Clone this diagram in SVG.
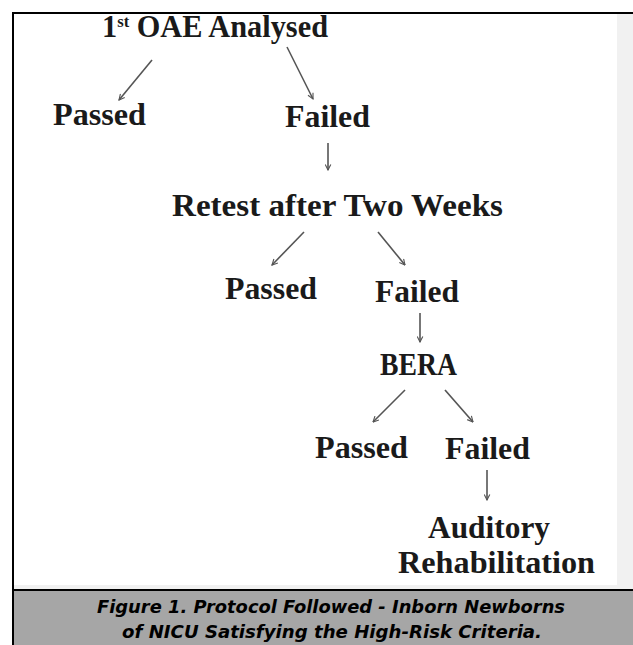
<svg xmlns="http://www.w3.org/2000/svg" width="633" height="645" viewBox="0 0 633 645">
<defs>
<style>
.t{font-family:"Liberation Serif","Times New Roman",serif;font-weight:bold;font-size:31px;fill:#1a1a1a}
.c{font-family:"DejaVu Sans",Verdana,sans-serif;font-weight:bold;font-style:italic;font-size:17px;fill:#000}
.a{stroke:#555;stroke-width:1.6;fill:none;marker-end:url(#ah)}
</style>
<marker id="ah" viewBox="0 0 10 10" refX="9" refY="5" markerWidth="7" markerHeight="7" orient="auto" markerUnits="userSpaceOnUse">
<path d="M1,1 L9,5 L1,9" fill="none" stroke="#555" stroke-width="1.6"/>
</marker>
</defs>
<rect x="0" y="0" width="633" height="645" fill="#fff"/>
<rect x="617" y="14" width="16" height="576" fill="#f1f1f1"/>
<rect x="14" y="585" width="619" height="5" fill="#f1f1f1"/>
<rect x="14" y="590" width="619" height="55" fill="#a6a6a6"/>
<line x1="14" y1="590" x2="633" y2="590" stroke="#000" stroke-width="2"/>
<line x1="13" y1="12" x2="13" y2="645" stroke="#000" stroke-width="2"/>
<line x1="12" y1="13" x2="633" y2="13" stroke="#000" stroke-width="2"/>

<g id="n1"><text class="t" x="102" y="37" textLength="226" lengthAdjust="spacingAndGlyphs">1<tspan font-size="17" dy="-10">st</tspan><tspan dy="10"> OAE Analysed</tspan></text></g>
<g id="n2"><text class="t" x="53" y="125" textLength="93" lengthAdjust="spacingAndGlyphs">Passed</text></g>
<g id="n3"><text class="t" x="285" y="127" textLength="85" lengthAdjust="spacingAndGlyphs">Failed</text></g>
<g id="n4"><text class="t" x="172" y="216" textLength="331" lengthAdjust="spacingAndGlyphs">Retest after Two Weeks</text></g>
<g id="n5"><text class="t" x="225" y="299" textLength="92" lengthAdjust="spacingAndGlyphs">Passed</text></g>
<g id="n6"><text class="t" x="375" y="302" textLength="84" lengthAdjust="spacingAndGlyphs">Failed</text></g>
<g id="n7"><text class="t" x="380" y="375" textLength="77" lengthAdjust="spacingAndGlyphs">BERA</text></g>
<g id="n8"><text class="t" x="315" y="458" textLength="93" lengthAdjust="spacingAndGlyphs">Passed</text></g>
<g id="n9"><text class="t" x="445" y="459" textLength="85" lengthAdjust="spacingAndGlyphs">Failed</text></g>
<g id="n10"><text class="t" x="428" y="538" textLength="122" lengthAdjust="spacingAndGlyphs">Auditory</text><text class="t" x="398" y="573" textLength="197" lengthAdjust="spacingAndGlyphs">Rehabilitation</text></g>

<g id="connectors">
<line class="a" x1="152" y1="60" x2="119" y2="100"/>
<line class="a" x1="287" y1="47" x2="313" y2="99"/>
<line class="a" x1="328" y1="143" x2="328" y2="170"/>
<line class="a" x1="304" y1="232" x2="272" y2="265"/>
<line class="a" x1="378" y1="232" x2="405" y2="265"/>
<line class="a" x1="420" y1="313" x2="420" y2="342"/>
<line class="a" x1="405" y1="390" x2="373" y2="422"/>
<line class="a" x1="445" y1="390" x2="473" y2="422"/>
<line class="a" x1="487" y1="470" x2="487" y2="500"/>
</g>

<g id="caption">
<text class="c" x="331" y="613" text-anchor="middle" textLength="468" lengthAdjust="spacingAndGlyphs">Figure 1. Protocol Followed - Inborn Newborns</text>
<text class="c" x="332" y="638" text-anchor="middle" textLength="420" lengthAdjust="spacingAndGlyphs">of NICU Satisfying the High-Risk Criteria.</text>
</g>
</svg>
